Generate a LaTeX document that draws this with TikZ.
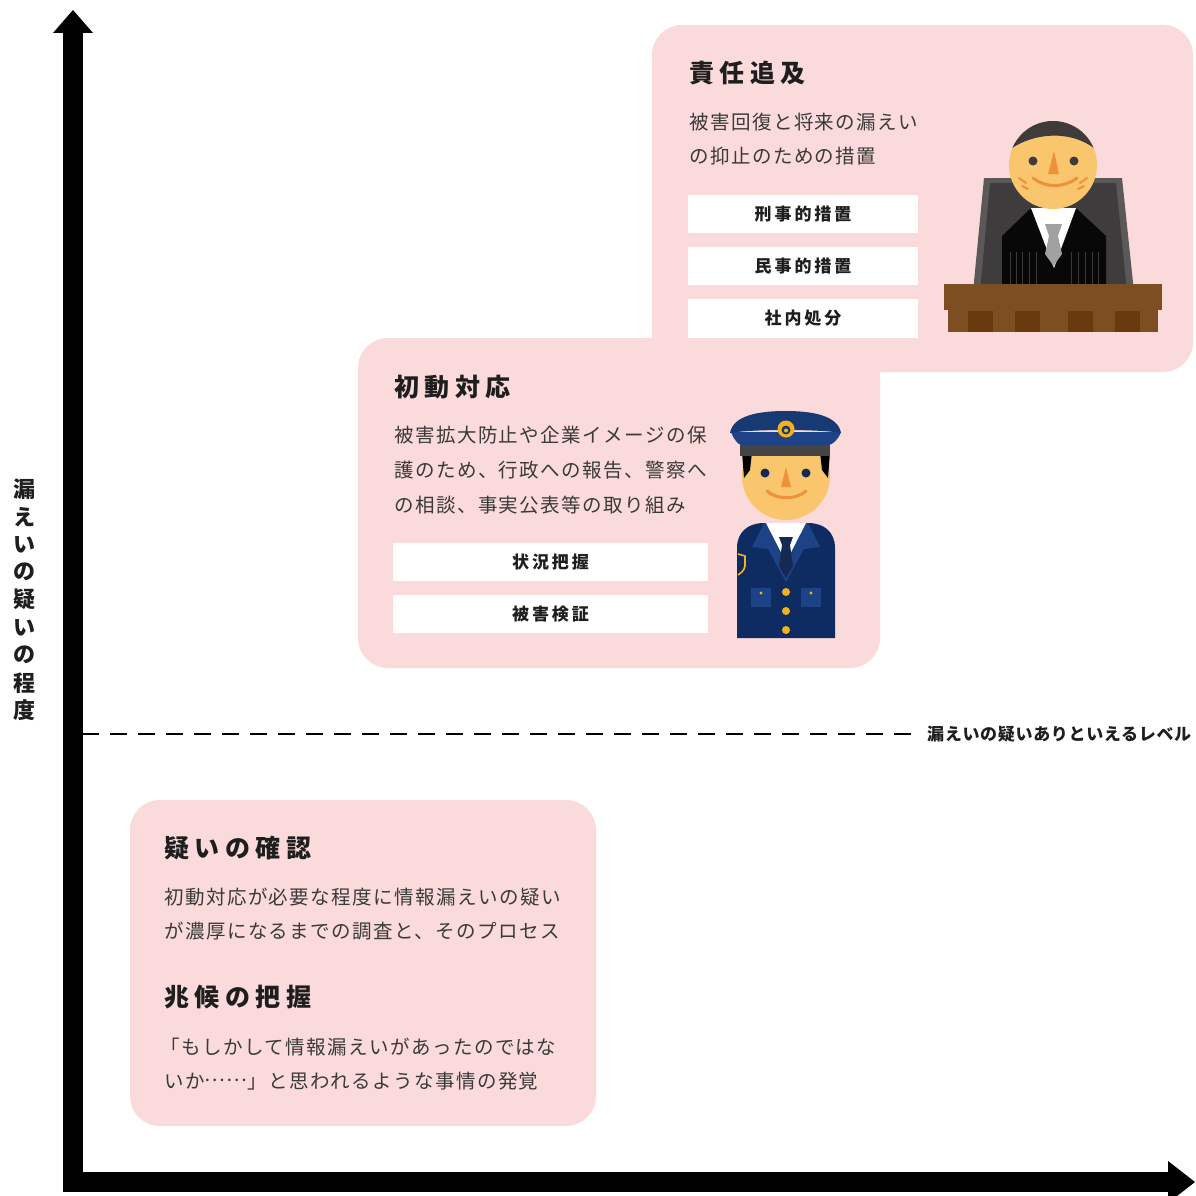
\documentclass[tikz,border=0pt]{standalone}
\usepackage{fontspec}
\setmainfont{Noto Sans CJK JP}
\newfontfamily\headfont[LetterSpace=22]{Noto Sans CJK JP}
\newfontfamily\bodyfont[LetterSpace=7.5]{Noto Sans CJK JP}
\newfontfamily\tagfont[LetterSpace=17]{Noto Sans CJK JP}
\newfontfamily\levelfont[LetterSpace=4]{Noto Sans CJK JP}

\definecolor{boxpink}{HTML}{FADADA}
\definecolor{textdark}{HTML}{1E1E1E}
\definecolor{bodygray}{HTML}{3A3A3A}
\definecolor{skin}{HTML}{F9C56D}
\definecolor{facemark}{HTML}{EE913B}
\definecolor{hairdark}{HTML}{3F3B3A}
\definecolor{chair}{HTML}{3E3C3C}
\definecolor{chairhi}{HTML}{5A5858}
\definecolor{robe}{HTML}{080808}
\definecolor{pleat}{HTML}{3A3A3A}
\definecolor{tiegray}{HTML}{A0A1A1}
\definecolor{desk}{HTML}{7D4E22}
\definecolor{deskdark}{HTML}{683A0F}
\definecolor{navy}{HTML}{0E2C62}
\definecolor{navylight}{HTML}{1D4386}
\definecolor{capnavy}{HTML}{173A73}
\definecolor{capband}{HTML}{454444}
\definecolor{gold}{HTML}{F4B11B}
\definecolor{eyenavy}{HTML}{172952}

\begin{document}
\begin{tikzpicture}[x=1pt,y=-1pt,
  pinkbox/.style={fill=boxpink, rounded corners=30pt},
  headtxt/.style={anchor=west, inner sep=0pt, text=textdark,
    font=\headfont\bfseries\fontsize{25}{25}\selectfont},
  bodytxt/.style={anchor=west, inner sep=0pt, text=bodygray,
    font=\bodyfont\fontsize{19.5}{19.5}\selectfont},
  tagbox/.style={fill=white, inner sep=0pt, text=textdark,
    font=\tagfont\bfseries\fontsize{17}{17}\selectfont},
  ylab/.style={inner sep=0pt, text=textdark,
    font=\bfseries\fontsize{22}{22}\selectfont},
  lvltxt/.style={anchor=west, inner sep=0pt, text=textdark,
    font=\levelfont\bfseries\fontsize{17}{17}\selectfont},
  levelline/.style={line width=2.5pt, dash pattern=on 17pt off 11pt},
  facestroke/.style={draw=facemark, line width=3pt, line cap=round},
]
\useasboundingbox (0,0) rectangle (1195,1196);
\clip (0,0) rectangle (1195,1196);

% ---------- phase panels ----------
\fill[pinkbox] (652,25) rectangle (1193,372);
\fill[pinkbox] (358,338) rectangle (880,668);
\fill[pinkbox] (130,800) rectangle (596,1126);

% ---------- axes ----------
\fill (63,33) rectangle (83,1192);
\fill (53,33) -- (73,10) -- (93,33) -- cycle;
\fill (63,1172) rectangle (1168,1192);
\fill (1168,1161) -- (1195,1182) -- (1168,1203) -- cycle;

% vertical axis title
\foreach \c [count=\i] in {漏,え,い,の,疑,い,の,程,度}
  \node[ylab] (ax\i) at (24,{489+(\i-1)*27.7}) {\c};

% ---------- threshold level ----------
\node[lvltxt] (lvl) at (927,734) {漏えいの疑いありといえるレベル};
\coordinate (lvlstart) at (82,734);
\draw[levelline] (lvlstart) -- ([xshift=-12pt]lvl.west);

% ---------- panel: 責任追及 ----------
\node[headtxt] (h3) at (689,73) {責任追及};
\node[bodytxt] (b3a) at (689,122) {被害回復と将来の漏えい};
\node[bodytxt] (b3b) at (689,156) {の抑止のための措置};
\node[tagbox, minimum width=230pt, minimum height=38pt] (k1) at (803,214) {刑事的措置};
\node[tagbox, minimum width=230pt, minimum height=38pt] (k2) at (803,266) {民事的措置};
\node[tagbox, minimum width=230pt, minimum height=39pt] (k3) at (803,318.5) {社内処分};

% ---------- panel: 初動対応 ----------
\node[headtxt] (h2) at (394,387) {初動対応};
\node[bodytxt] (b2a) at (394,435) {被害拡大防止や企業イメージの保};
\node[bodytxt] (b2b) at (394,470) {護のため、行政への報告、警察へ};
\node[bodytxt] (b2c) at (394,505) {の相談、事実公表等の取り組み};
\node[tagbox, minimum width=315pt, minimum height=38pt] (s1) at (550.5,562) {状況把握};
\node[tagbox, minimum width=315pt, minimum height=38pt] (s2) at (550.5,614) {被害検証};

% ---------- panel: 疑いの確認 / 兆候の把握 ----------
\node[headtxt] (h1) at (164,848) {疑いの確認};
\node[bodytxt] (b1a) at (164,897) {初動対応が必要な程度に情報漏えいの疑い};
\node[bodytxt] (b1b) at (164,931) {が濃厚になるまでの調査と、そのプロセス};
\node[headtxt] (h0) at (164,997) {兆候の把握};
\node[bodytxt] (b0a) at (160,1047) {「もしかして情報漏えいがあったのではな};
\node[bodytxt] (b0b) at (164,1081) {いか\raisebox{0.33em}{……}」と思われるような事情の発覚};

% ---------- judge ----------
% chair
\fill[chairhi] (984,178) -- (1122,178) -- (1134,292) -- (973,292) -- cycle;
\fill[chair] (990,183) -- (1116,183) -- (1127,292) -- (980,292) -- cycle;
% robe
\fill[robe] (1002,288) -- (1002,236) -- (1030,209) -- (1077,209) -- (1106,236) -- (1106,288) -- cycle;
\foreach \x in {1010,1016,1022,1029,1036,1071,1078,1085,1092,1098}
  \draw[pleat, line width=1pt] (\x,252) -- (\x,286);
% shirt and tie
\fill[white] (1031,208) -- (1076,208) -- (1054,268) -- cycle;
\fill[tiegray] (1045,224) -- (1062,224) -- (1058,236) -- (1062,254) -- (1053.5,266) -- (1045,254) -- (1049,236) -- cycle;
% head
\fill[skin] (1053,165) circle (44);
\begin{scope}
  \clip (1053,165) circle (44);
  \fill[hairdark] (1000,160) .. controls (1015,136) and (1075,120) .. (1106,160) -- (1106,110) -- (1000,110) -- cycle;
\end{scope}
\fill[hairdark] (1033,161) circle (4.5);
\fill[hairdark] (1074,161) circle (4.5);
\fill[facemark] (1054,151) -- (1059,174) -- (1048,174) -- cycle;
\draw[facestroke] (1033,178) .. controls (1045,188) and (1064,188) .. (1077,178);
\draw[facestroke, line width=2pt] (1019,178) -- (1026,183);
\draw[facestroke, line width=2pt] (1022,186) -- (1028,189);
\draw[facestroke, line width=2pt] (1087,178) -- (1080,183);
\draw[facestroke, line width=2pt] (1084,186) -- (1078,189);
% bench
\fill[desk] (944,284) rectangle (1162,310);
\fill[desk] (948,310) rectangle (1158,332);
\foreach \x in {968,1015,1068,1115}
  \fill[deskdark] (\x,311) rectangle ++(25,21);

% ---------- police officer ----------
% coat
\fill[navy] (737,638) -- (737,548) .. controls (737,532) and (748,523) .. (764,523)
  -- (808,523) .. controls (824,523) and (835,532) .. (835,548) -- (835,638) -- cycle;
\fill[navylight] (764,523) -- (752,547) -- (768,549) -- (786,582) -- (804,549) -- (820,547) -- (808,523) -- cycle;
\fill[white] (766,523) -- (806,523) -- (786,562) -- cycle;
\fill[eyenavy] (779,537) -- (793,537) -- (790,545) -- (793,566) -- (786,578) -- (779,566) -- (782,545) -- cycle;
\fill[navylight] (751,588) rectangle (771,607);
\fill[navylight] (801,588) rectangle (821,607);
\fill[gold] (761,593) circle (1.6);
\fill[gold] (811,593) circle (1.6);
\foreach \y in {592,611,630}
  \fill[gold] (786,\y) circle (4);
\draw[gold, line width=1.6pt] (738,554) -- (745,556) -- (745,566) .. controls (744,571) and (741,573) .. (738,575);
% head
\fill[skin] (786,476) circle (44);
\fill[black] (742,452) -- (752,452) -- (750,470) -- (744,478) -- cycle;
\fill[black] (820,452) -- (830,452) -- (828,478) -- (822,470) -- cycle;
\fill[eyenavy] (765,473) circle (4.5);
\fill[eyenavy] (806,473) circle (4.5);
\fill[facemark] (786,467) -- (791,487) -- (781,487) -- cycle;
\draw[facestroke] (767,491) .. controls (777,500) and (796,500) .. (806,491);
% cap
\fill[capband] (740,444) rectangle (830,456);
\fill[navylight] (731,432) .. controls (734,440) and (738,444) .. (741,445) -- (829,445)
  .. controls (833,444) and (838,440) .. (841,432) -- cycle;
\fill[capnavy] (730,433) .. controls (733,415) and (760,411) .. (785.5,411)
  .. controls (811,411) and (838,415) .. (841,433)
  .. controls (820,429) and (751,429) .. (730,433) -- cycle;
\fill[gold] (786,429) circle (8.5);
\fill[capnavy] (786,430) circle (4.5);
\fill[gold] (786,430.5) circle (2);
\end{tikzpicture}
\end{document}
